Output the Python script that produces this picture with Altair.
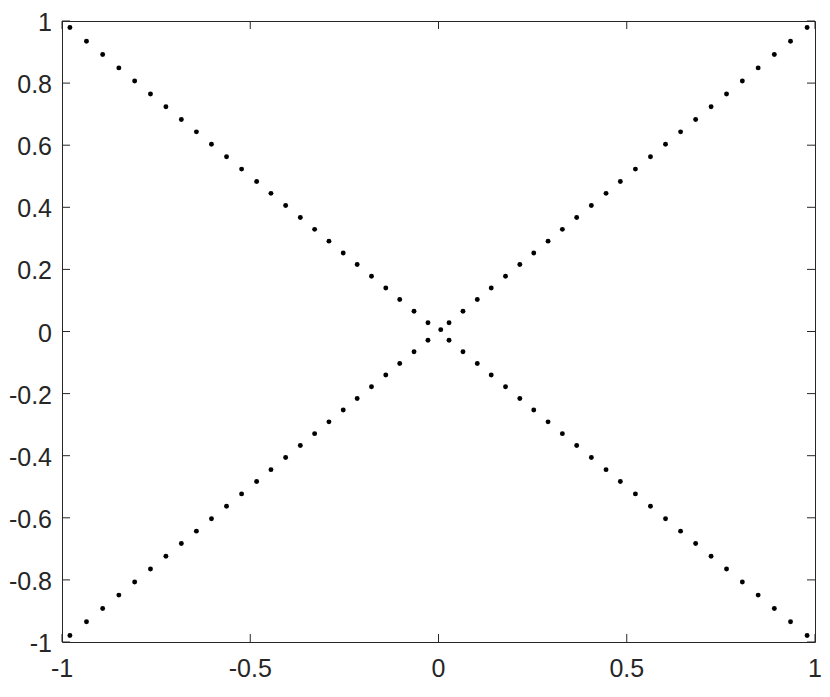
import altair as alt
import pandas as pd

# Descending diagonal (top-left to bottom-right)
desc_x = [-0.979, -0.935, -0.892, -0.849, -0.807, -0.765, -0.724, -0.683, -0.643, -0.603,
          -0.563, -0.523, -0.483, -0.445, -0.406, -0.367, -0.329, -0.291, -0.253, -0.216,
          -0.178, -0.140, -0.103, -0.065, -0.028,
          0.028, 0.065, 0.103, 0.140, 0.178, 0.216, 0.253, 0.291, 0.329, 0.367,
          0.406, 0.445, 0.483, 0.523, 0.563, 0.603, 0.643, 0.683, 0.724, 0.765,
          0.807, 0.849, 0.892, 0.935, 0.979]
desc_y = [0.979, 0.935, 0.892, 0.849, 0.807, 0.765, 0.724, 0.683, 0.643, 0.603,
          0.563, 0.523, 0.483, 0.445, 0.406, 0.367, 0.329, 0.291, 0.253, 0.216,
          0.178, 0.140, 0.103, 0.065, 0.028,
          -0.028, -0.065, -0.103, -0.140, -0.178, -0.216, -0.253, -0.291, -0.329, -0.367,
          -0.406, -0.445, -0.483, -0.523, -0.563, -0.603, -0.643, -0.683, -0.724, -0.765,
          -0.807, -0.849, -0.892, -0.935, -0.979]

# Ascending diagonal (bottom-left to top-right), including the centre dot
asc_x = [-0.979, -0.935, -0.892, -0.849, -0.807, -0.765, -0.724, -0.683, -0.643, -0.603,
         -0.563, -0.523, -0.483, -0.445, -0.406, -0.367, -0.329, -0.291, -0.253, -0.216,
         -0.178, -0.140, -0.103, -0.065, -0.028, 0.006,
         0.028, 0.065, 0.103, 0.140, 0.178, 0.216, 0.253, 0.291, 0.329, 0.367,
         0.406, 0.445, 0.483, 0.523, 0.563, 0.603, 0.643, 0.683, 0.724, 0.765,
         0.807, 0.849, 0.892, 0.935, 0.979]
asc_y = [-0.979, -0.935, -0.892, -0.849, -0.807, -0.765, -0.724, -0.683, -0.643, -0.603,
         -0.563, -0.523, -0.483, -0.445, -0.406, -0.367, -0.329, -0.291, -0.253, -0.216,
         -0.178, -0.140, -0.103, -0.065, -0.028, 0.006,
         0.028, 0.065, 0.103, 0.140, 0.178, 0.216, 0.253, 0.291, 0.329, 0.367,
         0.406, 0.445, 0.483, 0.523, 0.563, 0.603, 0.643, 0.683, 0.724, 0.765,
         0.807, 0.849, 0.892, 0.935, 0.979]

x_ticks = [-1, -0.5, 0, 0.5, 1]
x_labels = ["-1", "-0.5", "0", "0.5", "1"]
y_ticks = [-1, -0.8, -0.6, -0.4, -0.2, 0, 0.2, 0.4, 0.6, 0.8, 1]
y_labels = ["-1", "-0.8", "-0.6", "-0.4", "-0.2", "0", "0.2", "0.4", "0.6", "0.8", "1"]

INK = "#262626"
FONT = "Liberation Sans"
FS = 25

pts = pd.DataFrame({"x": desc_x + asc_x, "y": desc_y + asc_y})
xt = pd.DataFrame({"v": x_ticks, "label": x_labels})
yt = pd.DataFrame({"v": y_ticks, "label": y_labels})

xs = alt.Scale(domain=[-1, 1], nice=False, zero=False)
ys = alt.Scale(domain=[-1, 1], nice=False, zero=False)

points = alt.Chart(pts).mark_circle(color="black", opacity=1, size=24).encode(
    x=alt.X("x:Q", scale=xs, axis=None),
    y=alt.Y("y:Q", scale=ys, axis=None),
)

left_ticks = alt.Chart(yt).mark_rule(color=INK, strokeWidth=1, x2Offset=8).encode(
    y=alt.Y("v:Q", scale=ys, axis=None),
    x=alt.XDatum(-1, axis=None), x2=alt.X2Datum(-1))
right_ticks = alt.Chart(yt).mark_rule(color=INK, strokeWidth=1, x2Offset=-8).encode(
    y=alt.Y("v:Q", scale=ys, axis=None),
    x=alt.XDatum(1, axis=None), x2=alt.X2Datum(1))
bottom_ticks = alt.Chart(xt).mark_rule(color=INK, strokeWidth=1, y2Offset=-8).encode(
    x=alt.X("v:Q", scale=xs, axis=None),
    y=alt.YDatum(-1, axis=None), y2=alt.Y2Datum(-1))
top_ticks = alt.Chart(xt).mark_rule(color=INK, strokeWidth=1, y2Offset=8).encode(
    x=alt.X("v:Q", scale=xs, axis=None),
    y=alt.YDatum(1, axis=None), y2=alt.Y2Datum(1))

y_text = alt.Chart(yt).mark_text(align="right", baseline="middle", dx=-10, dy=2,
                                 fontSize=FS, font=FONT, color=INK).encode(
    y=alt.Y("v:Q", scale=ys, axis=None),
    x=alt.XDatum(-1, axis=None),
    text="label:N")
x_text = alt.Chart(xt).mark_text(align="center", baseline="top", dy=15,
                                 fontSize=FS, font=FONT, color=INK).encode(
    x=alt.X("v:Q", scale=xs, axis=None),
    y=alt.YDatum(-1, axis=None),
    text="label:N")

chart = alt.layer(points, left_ticks, right_ticks, bottom_ticks, top_ticks, y_text, x_text).properties(
    width=753, height=621,
    padding={"left": 54, "top": 13, "right": 7, "bottom": 41},
    autosize=alt.AutoSizeParams(type="none"),
    background="white",
).configure_view(stroke=INK, strokeWidth=1)

chart.save("out.html", embed_options={"renderer": "svg", "actions": False})
